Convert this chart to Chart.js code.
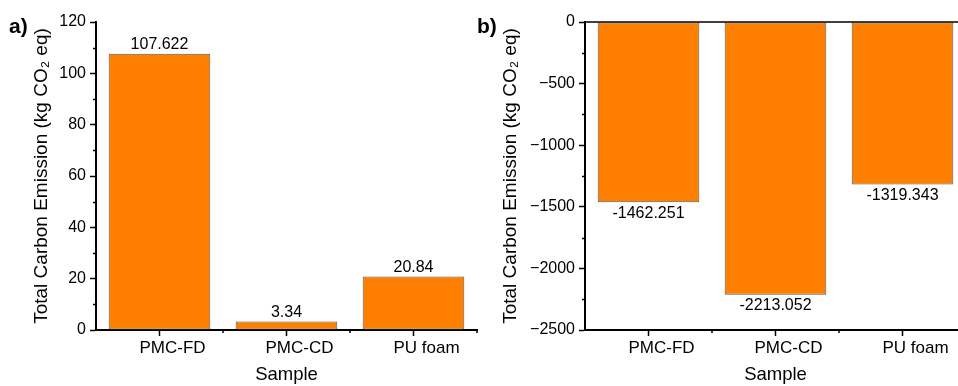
<!DOCTYPE html>
<html>
<head>
<meta charset="utf-8">
<script src="https://cdn.jsdelivr.net/npm/chart.js@4.4.1/dist/chart.umd.min.js"></script>
<style>
  html, body { margin: 0; padding: 0; background: #fff; overflow: hidden; }
  #wrap { position: relative; width: 958px; height: 386px; overflow: hidden; }
  #boxA { position: absolute; left: 0; top: 0; }
  #boxB { position: absolute; left: 478px; top: 0; }
</style>
</head>
<body>
<div id="wrap">
  <div id="boxA"><canvas id="chartA" width="478" height="386"></canvas></div>
  <div id="boxB"><canvas id="chartB" width="490" height="386"></canvas></div>
</div>
<script>
const categories = ["PMC-FD", "PMC-CD", "PU foam"];
const emissionA = [107.622, 3.34, 20.84];
const emissionB = [-1462.251, -2213.052, -1319.343];
const yTicksA = [0, 20, 40, 60, 80, 100, 120];
const yTicksB = [-2500, -2000, -1500, -1000, -500, 0];

const FONT = "'Liberation Sans', Arial, Helvetica, sans-serif";
const yTitle = "Total Carbon Emission (kg CO\u2082 eq)";

// minor ticks, value labels, panel letter
const extras = {
  id: "extras",
  afterDraw(chart, args, opts) {
    const ctx = chart.ctx;
    const area = chart.chartArea;
    const x = chart.scales.x, y = chart.scales.y;
    ctx.save();
    ctx.strokeStyle = "#000";
    ctx.lineWidth = 1.5;

    // minor y ticks halfway between majors
    const half = (y.max - y.min) / (y.ticks.length - 1) / 2;
    for (let v = y.min + half; v < y.max; v += half * 2) {
      const py = Math.round(y.getPixelForValue(v)) + 0.5;
      ctx.beginPath();
      ctx.moveTo(area.left - 3, py);
      ctx.lineTo(area.left, py);
      ctx.stroke();
    }
    // minor x ticks between categories
    const n = categories.length;
    for (let i = 0; i < n; i++) {
      const next = i < n - 1 ? x.getPixelForValue(i + 1) : x.getPixelForValue(i) * 2 - x.getPixelForValue(i - 1);
      const px = (x.getPixelForValue(i) + next) / 2;
      ctx.beginPath();
      ctx.moveTo(px, area.bottom);
      ctx.lineTo(px, area.bottom + 3);
      ctx.stroke();
    }

    if (opts.zeroLine) {
      const py = y.getPixelForValue(0);
      ctx.beginPath();
      ctx.moveTo(area.left, py);
      ctx.lineTo(area.right, py);
      ctx.stroke();
    }

    // value labels
    ctx.fillStyle = "#000";
    ctx.font = "16px " + FONT;
    ctx.textAlign = "center";
    const meta = chart.getDatasetMeta(0);
    const values = chart.data.datasets[0].data;
    meta.data.forEach((bar, i) => {
      const v = values[i];
      if (v >= 0) {
        ctx.textBaseline = "bottom";
        ctx.fillText(String(v), bar.x, bar.y - 1);
      } else {
        ctx.textBaseline = "top";
        ctx.fillText(String(v), bar.x, bar.y + 3);
      }
    });

    // panel letter
    ctx.font = "bold 21px " + FONT;
    ctx.textAlign = "left";
    ctx.textBaseline = "middle";
    ctx.fillText(opts.letter, opts.letterX, 27);
    ctx.restore();
  }
};

function makeChart(id, values, yTicks, yWidth, titlePad, padRight, letter, letterX, zeroLine) {
  return new Chart(document.getElementById(id), {
    type: "bar",
    data: {
      labels: categories,
      datasets: [{
        data: values,
        backgroundColor: "#ff8000",
        borderColor: "#5e5852",
        borderWidth: 1,
        borderSkipped: false,
        categoryPercentage: 0.8,
        barPercentage: 1.0
      }]
    },
    options: {
      responsive: false,
      animation: false,
      layout: { padding: { left: 0, top: 22, right: padRight, bottom: 0 } },
      plugins: {
        legend: { display: false },
        tooltip: { enabled: false },
        extras: { letter: letter, letterX: letterX, zeroLine: zeroLine }
      },
      scales: {
        x: {
          z: 1,
          grid: { display: true, drawOnChartArea: false, offset: false, tickLength: 6, tickColor: "#000", tickWidth: 1.5 },
          border: { display: true, color: "#000", width: 2 },
          ticks: { color: "#000", font: { family: FONT, size: 17 }, padding: 2, labelOffset: 13, maxRotation: 0 },
          title: { display: true, text: "Sample", color: "#000", font: { family: FONT, size: 18.5 }, padding: { top: 0, bottom: 0 } },
          afterFit(s) { s.height = 56; }
        },
        y: {
          z: 1,
          min: yTicks[0],
          max: yTicks[yTicks.length - 1],
          grid: { display: true, drawOnChartArea: false, tickLength: 6, tickColor: "#000", tickWidth: 1.5 },
          border: { display: true, color: "#000", width: 2 },
          ticks: {
            stepSize: yTicks[1] - yTicks[0],
            color: "#000",
            font: { family: FONT, size: 16 },
            padding: 4,
            callback: v => String(v).replace("-", "\u2212")
          },
          title: { display: true, text: yTitle, color: "#000", font: { family: FONT, size: 19 }, padding: { top: titlePad, bottom: 0 } },
          afterFit(s) { s.width = yWidth; }
        }
      }
    },
    plugins: [extras]
  });
}

makeChart("chartA", emissionA, yTicksA, 96, 30, 1, "a)", 9, false);
makeChart("chartB", emissionB, yTicksB, 107, 21, 2, "b)", -1, true);
</script>
</body>
</html>
